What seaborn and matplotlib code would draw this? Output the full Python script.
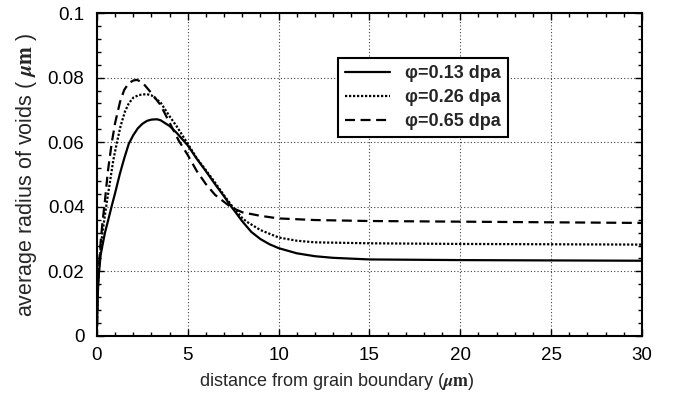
import matplotlib
matplotlib.use("Agg")
import matplotlib.pyplot as plt
import seaborn as sns
import pandas as pd
from matplotlib.ticker import MultipleLocator

# distance from grain boundary (um) and average radius (um)
x_013 = [0, 0.03, 0.06, 0.1, 0.2, 0.3, 0.44, 0.6, 0.8, 1.0, 1.25, 1.5, 1.75, 2.0,
         2.25, 2.5, 2.75, 3.0, 3.3, 3.5, 4.0, 4.4, 5.0, 5.5, 6.0, 6.5, 7.0, 7.4,
         8.0, 8.5, 9.0, 9.5, 10, 11, 12, 13, 15, 20, 25, 30]
r_013 = [0.003, 0.010, 0.015, 0.019, 0.025, 0.028, 0.032, 0.0355, 0.040, 0.0443,
         0.050, 0.055, 0.0595, 0.0622, 0.0643, 0.0657, 0.0666, 0.0670, 0.0671,
         0.0668, 0.065, 0.0628, 0.059, 0.0548, 0.051, 0.047, 0.0432, 0.040,
         0.0355, 0.0322, 0.0300, 0.0284, 0.0272, 0.0256, 0.0247, 0.0242, 0.0237,
         0.0235, 0.0234, 0.0233]

x_026 = [0, 0.03, 0.06, 0.1, 0.2, 0.3, 0.53, 0.75, 0.9, 1.1, 1.3, 1.54, 1.75, 2.0,
         2.3, 2.73, 3.0, 3.5, 4.0, 4.4, 5.0, 5.5, 6.0, 6.5, 7.0, 7.4, 8.0, 8.24,
         9.0, 10, 11, 12, 13, 15, 20, 25, 30]
r_026 = [0.003, 0.011, 0.016, 0.020, 0.027, 0.032, 0.041, 0.049, 0.0545, 0.060,
         0.065, 0.0695, 0.072, 0.0738, 0.0746, 0.0749, 0.0745, 0.0723, 0.068,
         0.0648, 0.0595, 0.055, 0.0513, 0.0475, 0.0435, 0.0405, 0.0365, 0.0354,
         0.0328, 0.0305, 0.0295, 0.0290, 0.0289, 0.0287, 0.0285, 0.0284, 0.0283]

x_065 = [0, 0.03, 0.06, 0.1, 0.2, 0.3, 0.44, 0.6, 0.81, 1.0, 1.27, 1.5, 1.75, 2.0,
         2.2, 2.5, 3.0, 3.5, 4.0, 4.5, 5.0, 5.5, 6.0, 6.5, 7.0, 7.4, 8.0, 9.0,
         10, 12, 15, 20, 25, 30]
r_065 = [0.003, 0.012, 0.017, 0.021, 0.029, 0.035, 0.042, 0.051, 0.0597, 0.066,
         0.0725, 0.0762, 0.0783, 0.0791, 0.0793, 0.0785, 0.0752, 0.0715, 0.066,
         0.0605, 0.056, 0.051, 0.047, 0.0437, 0.0415, 0.0398, 0.0383, 0.0372,
         0.0364, 0.0359, 0.0356, 0.0354, 0.0352, 0.0350]

labels = ["\u03c6=0.13 dpa", "\u03c6=0.26 dpa", "\u03c6=0.65 dpa"]

df = pd.concat([
    pd.DataFrame({"x": x_013, "r": r_013, "dose": labels[0]}),
    pd.DataFrame({"x": x_026, "r": r_026, "dose": labels[1]}),
    pd.DataFrame({"x": x_065, "r": r_065, "dose": labels[2]}),
])

sns.set_style("ticks")
plt.rcParams["font.family"] = ["Liberation Sans", "DejaVu Sans"]
plt.rcParams["mathtext.fontset"] = "stix"

fig = plt.figure(figsize=(6.73, 3.99), dpi=100)
ax = fig.add_axes([0.1441, 0.1579, 0.8098, 0.8095])

sns.lineplot(data=df, x="x", y="r", hue="dose", style="dose",
             palette=["black"] * 3, hue_order=labels, style_order=labels,
             dashes={labels[0]: "", labels[1]: (1, 0.8), labels[2]: (4.5, 2.5)},
             linewidth=1.6, sort=False, ax=ax)

ax.set_xlim(0, 30)
ax.set_ylim(0, 0.1)
ax.xaxis.set_major_locator(MultipleLocator(5))
ax.xaxis.set_minor_locator(MultipleLocator(1))
ax.yaxis.set_minor_locator(MultipleLocator(0.004))
ax.set_yticks([0, 0.02, 0.04, 0.06, 0.08, 0.1])
ax.set_yticklabels(["0", "0.02", "0.04", "0.06", "0.08", "0.1"])
ax.tick_params(which="both", direction="in", top=True, right=True,
               colors="black", labelsize=13.5, width=1)
ax.tick_params(which="major", length=5)
ax.tick_params(which="minor", length=3)
ax.tick_params(axis="y", which="major", pad=9)
ax.tick_params(axis="x", which="major", pad=8)
ax.grid(True, which="major", linestyle=(0, (1, 2)), color="black",
        linewidth=0.8, alpha=0.75)
for s in ax.spines.values():
    s.set_color("black")
    s.set_linewidth(1.5)

ax.set_xlabel(r"distance from grain boundary ($\boldsymbol{\mu}\mathbf{m}$)",
              fontsize=13)
ax.xaxis.set_label_coords(0.44, -0.108)
ax.set_ylabel("average radius of voids ( $\\boldsymbol{\\mu}\\mathbf{m}$ )",
              fontsize=15.5, labelpad=6)

handles, _ = ax.get_legend_handles_labels()
leg = ax.legend(handles[-3:], labels, loc="upper left",
                bbox_to_anchor=(0.442, 0.86), frameon=True, fancybox=False,
                edgecolor="black", framealpha=1, borderpad=0.4,
                borderaxespad=0, handlelength=2.5, handletextpad=0.8,
                labelspacing=0.38, prop={"weight": "bold", "size": 13})
leg.get_frame().set_linewidth(1.5)

fig.savefig("out.png", dpi=100)
